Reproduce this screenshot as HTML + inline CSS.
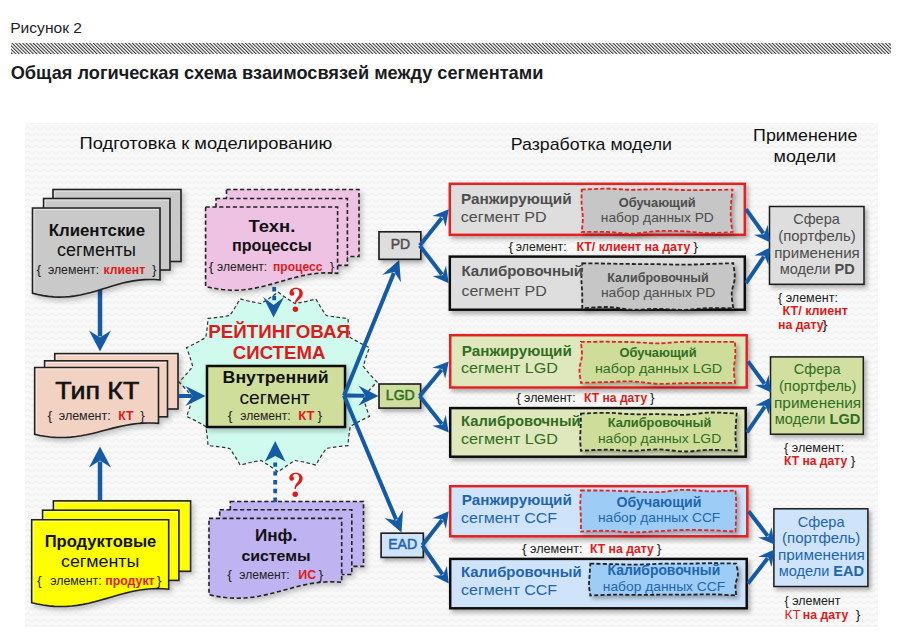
<!DOCTYPE html>
<html><head><meta charset="utf-8"><style>
html,body{margin:0;padding:0;width:899px;height:636px;overflow:hidden;background:#fff;}
</style></head><body>
<svg width="899" height="636" viewBox="0 0 899 636" style="position:absolute;left:0;top:0" font-family='"Liberation Sans", sans-serif'><defs>
<pattern id="hatch" width="2.5" height="2.5" patternUnits="userSpaceOnUse" patternTransform="rotate(-45)">
<rect width="2.5" height="2.5" fill="#fff"/><rect x="0" y="0" width="1.05" height="2.5" fill="#333"/>
</pattern>
<pattern id="zig" width="8" height="6" patternUnits="userSpaceOnUse">
<rect width="8" height="6" fill="#f9f9f9"/>
<path d="M0,4 L4,1 L8,4" stroke="#f0f0f0" stroke-width="1.3" fill="none"/>
</pattern>
<filter id="soft" x="-5%" y="-5%" width="110%" height="110%"><feGaussianBlur stdDeviation="0.8"/></filter>
<filter id="sh" x="-20%" y="-20%" width="150%" height="150%">
<feDropShadow dx="2.5" dy="3" stdDeviation="2.5" flood-color="#000" flood-opacity="0.22"/>
</filter>
<filter id="sh2" x="-20%" y="-20%" width="150%" height="150%">
<feDropShadow dx="2.5" dy="3" stdDeviation="2.2" flood-color="#000" flood-opacity="0.3"/>
</filter>
</defs><rect width="899" height="636" fill="#fff"/><text x="10.2" y="32.9" font-size="14.5" font-weight="normal" fill="#1e1e28" textLength="71.8" lengthAdjust="spacingAndGlyphs">Рисунок 2</text><rect x="11" y="43" width="880" height="11" fill="url(#hatch)"/><text x="10.7" y="78.5" font-size="18.5" font-weight="bold" fill="#1a1a22" textLength="532.7" lengthAdjust="spacingAndGlyphs">Общая логическая схема взаимосвязей между сегментами</text><rect x="25" y="123" width="853" height="504" fill="url(#zig)"/><text x="79.6" y="149.0" font-size="17" font-weight="normal" fill="#111" textLength="252.7" lengthAdjust="spacingAndGlyphs">Подготовка к моделированию</text><text x="510.8" y="150.3" font-size="17" font-weight="normal" fill="#111" textLength="161.2" lengthAdjust="spacingAndGlyphs">Разработка модели</text><text x="753.1" y="141.0" font-size="17" font-weight="normal" fill="#111" textLength="104.4" lengthAdjust="spacingAndGlyphs">Применение</text><text x="773.6" y="162.0" font-size="17" font-weight="normal" fill="#111" textLength="62.4" lengthAdjust="spacingAndGlyphs">модели</text><line x1="100.0" y1="290.0" x2="100.0" y2="336.5" stroke="#155aa4" stroke-width="4.5"/><path d="M100.0,351.5 L89.0,330.5 L100.0,337.5 L111.0,330.5 Z" fill="#155aa4"/><line x1="100.0" y1="500.0" x2="100.0" y2="461.5" stroke="#155aa4" stroke-width="4.5"/><path d="M100.0,446.5 L111.0,467.5 L100.0,460.5 L89.0,467.5 Z" fill="#155aa4"/><path d="M278.0,292.0 Q286.4,298.5 295.0,303.5 Q305.2,301.9 315.9,298.9 Q320.7,307.8 326.3,315.5 Q336.7,317.5 348.0,318.4 Q348.6,328.4 350.3,337.6 Q359.2,342.9 369.5,347.6 Q365.7,357.2 363.3,366.4 Q369.4,374.3 377.0,382.0 Q369.4,389.7 363.3,397.6 Q365.7,406.8 369.5,416.4 Q359.2,421.1 350.3,426.4 Q348.6,435.6 348.0,445.6 Q336.7,446.5 326.3,448.5 Q320.7,456.2 315.9,465.1 Q305.2,462.1 295.0,460.5 Q286.4,465.5 278.0,472.0 Q269.6,465.5 261.0,460.5 Q250.8,462.1 240.1,465.1 Q235.3,456.2 229.7,448.5 Q219.3,446.5 208.0,445.6 Q207.4,435.6 205.7,426.4 Q196.8,421.1 186.5,416.4 Q190.3,406.8 192.7,397.6 Q186.6,389.7 179.0,382.0 Q186.6,374.3 192.7,366.4 Q190.3,357.2 186.5,347.6 Q196.8,342.9 205.7,337.6 Q207.4,328.4 208.0,318.4 Q219.3,317.5 229.7,315.5 Q235.3,307.8 240.1,298.9 Q250.8,301.9 261.0,303.5 Q269.6,298.5 278.0,292.0 Z" fill="#d0faee" stroke="#333" stroke-width="1.2" stroke-dasharray="3.5,2.5"/><g filter="url(#sh)"><rect x="53" y="189.5" width="128" height="72" fill="#c9c9c9" stroke="#222" stroke-width="1.6"/><path d="M54.6,260.5 V191.1 H179.8" stroke="#fff" stroke-opacity="0.55" stroke-width="1" fill="none"/><rect x="43.6" y="198.5" width="126.4" height="71.5" fill="#c9c9c9" stroke="#222" stroke-width="1.6"/><path d="M45.2,269.0 V200.1 H168.8" stroke="#fff" stroke-opacity="0.55" stroke-width="1" fill="none"/><path d="M32.5,208.0 H160.0 V280.0 L154.69,279.56 149.38,279.44 144.06,279.61 138.75,280.09 133.44,280.84 128.12,281.86 122.81,283.09 117.50,284.50 112.19,286.04 106.87,287.66 101.56,289.30 96.25,290.91 90.94,292.42 85.62,293.79 80.31,294.97 75.00,295.91 69.69,296.60 64.38,297.00 59.06,297.09 53.75,296.88 48.44,296.38 43.13,295.59 37.81,294.56 32.50,293.30 Z" fill="#c9c9c9" stroke="#222" stroke-width="1.6"/><path d="M34.1,291.3 V209.6 H158.8" stroke="#fff" stroke-opacity="0.55" stroke-width="1" fill="none"/></g><text x="48.7" y="235.9" font-size="16.5" font-weight="bold" fill="#111" textLength="96.4" lengthAdjust="spacingAndGlyphs">Клиентские</text><text x="57.0" y="256.0" font-size="17.5" font-weight="normal" fill="#111" textLength="79.0" lengthAdjust="spacingAndGlyphs">сегменты</text><text x="36.4" y="274.3" font-size="12" font-weight="normal" fill="#222" textLength="4.7" lengthAdjust="spacingAndGlyphs">{</text><text x="47.9" y="274.3" font-size="12" font-weight="normal" fill="#222" textLength="51.2" lengthAdjust="spacingAndGlyphs">элемент:</text><text x="103.6" y="274.3" font-size="12" font-weight="bold" fill="#e01a1a" textLength="41.5" lengthAdjust="spacingAndGlyphs">клиент</text><text x="152.0" y="274.3" font-size="12" font-weight="normal" fill="#222" textLength="4.6" lengthAdjust="spacingAndGlyphs">}</text><g filter="url(#sh)"><rect x="226.5" y="189.5" width="132.5" height="67" fill="#eec2e2" stroke="#222" stroke-width="1.6" stroke-dasharray="4.2,2.6"/><rect x="216" y="198.5" width="131.4" height="66.9" fill="#eec2e2" stroke="#222" stroke-width="1.6" stroke-dasharray="4.2,2.6"/><path d="M205.6,207.0 H337.6 V273.4 L332.10,272.97 326.60,272.84 321.10,273.02 315.60,273.49 310.10,274.23 304.60,275.23 299.10,276.44 293.60,277.83 288.10,279.35 282.60,280.95 277.10,282.56 271.60,284.14 266.10,285.63 260.60,286.98 255.10,288.14 249.60,289.07 244.10,289.75 238.60,290.14 233.10,290.24 227.60,290.03 222.10,289.53 216.60,288.76 211.10,287.74 205.60,286.50 Z" fill="#eec2e2" stroke="#222" stroke-width="1.6" stroke-dasharray="4.2,2.6"/></g><text x="248.4" y="231.8" font-size="17" font-weight="bold" fill="#111" textLength="46.9" lengthAdjust="spacingAndGlyphs">Техн.</text><text x="231.9" y="251.3" font-size="16" font-weight="bold" fill="#111" textLength="79.9" lengthAdjust="spacingAndGlyphs">процессы</text><text x="208.8" y="270.8" font-size="12" font-weight="normal" fill="#222" textLength="4.8" lengthAdjust="spacingAndGlyphs">{</text><text x="217.1" y="270.8" font-size="12" font-weight="normal" fill="#222" textLength="50.1" lengthAdjust="spacingAndGlyphs">элемент:</text><text x="273.1" y="270.8" font-size="12" font-weight="bold" fill="#e01a1a" textLength="49.3" lengthAdjust="spacingAndGlyphs">процесс</text><text x="329.7" y="270.8" font-size="12" font-weight="normal" fill="#222" textLength="4.5" lengthAdjust="spacingAndGlyphs">}</text><g filter="url(#sh)"><rect x="54.75" y="353.6" width="123.25" height="55.4" fill="#f1d2c3" stroke="#222" stroke-width="1.6"/><path d="M56.4,408.0 V355.2 H176.8" stroke="#fff" stroke-opacity="0.55" stroke-width="1" fill="none"/><rect x="44.6" y="360.8" width="122.9" height="56" fill="#f1d2c3" stroke="#222" stroke-width="1.6"/><path d="M46.2,415.8 V362.4 H166.3" stroke="#fff" stroke-opacity="0.55" stroke-width="1" fill="none"/><path d="M34.7,367.5 H158.5 V423.4 L153.34,423.04 148.18,422.93 143.03,423.08 137.87,423.47 132.71,424.10 127.55,424.94 122.39,425.96 117.23,427.12 112.08,428.40 106.92,429.74 101.76,431.09 96.60,432.42 91.44,433.67 86.28,434.80 81.12,435.78 75.97,436.56 70.81,437.13 65.65,437.46 60.49,437.54 55.33,437.36 50.18,436.95 45.02,436.30 39.86,435.44 34.70,434.40 Z" fill="#f1d2c3" stroke="#222" stroke-width="1.6"/><path d="M36.3,432.4 V369.1 H157.3" stroke="#fff" stroke-opacity="0.55" stroke-width="1" fill="none"/></g><text x="55.3" y="399.2" font-size="24.5" font-weight="normal" fill="#111" stroke="#111" stroke-width="0.6" textLength="84.0" lengthAdjust="spacingAndGlyphs">Тип КТ</text><text x="47.5" y="420.0" font-size="12" font-weight="normal" fill="#222" textLength="4.7" lengthAdjust="spacingAndGlyphs">{</text><text x="58.8" y="420.0" font-size="12" font-weight="normal" fill="#222" textLength="51.8" lengthAdjust="spacingAndGlyphs">элемент:</text><text x="118.3" y="420.0" font-size="12" font-weight="bold" fill="#e01a1a" textLength="15.3" lengthAdjust="spacingAndGlyphs">КТ</text><text x="140.3" y="420.0" font-size="12" font-weight="normal" fill="#222" textLength="4.5" lengthAdjust="spacingAndGlyphs">}</text><g filter="url(#sh)"><rect x="53.4" y="500.9" width="137.2" height="70.4" fill="#ffff00" stroke="#222" stroke-width="1.6"/><path d="M55.0,570.3 V502.5 H189.4" stroke="#fff" stroke-opacity="0.55" stroke-width="1" fill="none"/><rect x="42.6" y="510.2" width="136.3" height="70.2" fill="#ffff00" stroke="#222" stroke-width="1.6"/><path d="M44.2,579.4 V511.8 H177.7" stroke="#fff" stroke-opacity="0.55" stroke-width="1" fill="none"/><path d="M31.7,519.8 H168.7 V589.2 L162.99,588.76 157.28,588.63 151.57,588.81 145.87,589.29 140.16,590.06 134.45,591.08 128.74,592.34 123.03,593.77 117.33,595.33 111.62,596.98 105.91,598.64 100.20,600.27 94.49,601.80 88.78,603.19 83.08,604.39 77.37,605.35 71.66,606.05 65.95,606.45 60.24,606.55 54.53,606.34 48.83,605.83 43.12,605.03 37.41,603.98 31.70,602.70 Z" fill="#ffff00" stroke="#222" stroke-width="1.6"/><path d="M33.3,600.7 V521.4 H167.5" stroke="#fff" stroke-opacity="0.55" stroke-width="1" fill="none"/></g><text x="44.7" y="546.8" font-size="16.3" font-weight="bold" fill="#111" textLength="111.6" lengthAdjust="spacingAndGlyphs">Продуктовые</text><text x="61.0" y="567.4" font-size="17.3" font-weight="normal" fill="#111" textLength="78.2" lengthAdjust="spacingAndGlyphs">сегменты</text><text x="37.1" y="585.0" font-size="12" font-weight="normal" fill="#222" textLength="4.7" lengthAdjust="spacingAndGlyphs">{</text><text x="50.3" y="585.0" font-size="12" font-weight="normal" fill="#222" textLength="51.3" lengthAdjust="spacingAndGlyphs">элемент:</text><text x="105.3" y="585.0" font-size="12" font-weight="bold" fill="#e01a1a" textLength="49.3" lengthAdjust="spacingAndGlyphs">продукт</text><text x="156.7" y="585.0" font-size="12" font-weight="normal" fill="#222" textLength="4.7" lengthAdjust="spacingAndGlyphs">}</text><g filter="url(#sh)"><rect x="230.3" y="501.5" width="133.2" height="64.9" fill="#c0b3f2" stroke="#222" stroke-width="1.6" stroke-dasharray="4.2,2.6"/><rect x="219.7" y="509.8" width="132.1" height="64.7" fill="#c0b3f2" stroke="#222" stroke-width="1.6" stroke-dasharray="4.2,2.6"/><path d="M209.0,518.4 H341.7 V582.3 L336.17,581.89 330.64,581.77 325.11,581.94 319.58,582.38 314.05,583.09 308.52,584.03 303.00,585.18 297.47,586.50 291.94,587.93 286.41,589.44 280.88,590.97 275.35,592.47 269.82,593.88 264.29,595.15 258.76,596.25 253.23,597.14 247.70,597.78 242.18,598.15 236.65,598.24 231.12,598.04 225.59,597.57 220.06,596.84 214.53,595.87 209.00,594.70 Z" fill="#c0b3f2" stroke="#222" stroke-width="1.6" stroke-dasharray="4.2,2.6"/></g><text x="254.9" y="541.0" font-size="16.4" font-weight="bold" fill="#111" textLength="42.3" lengthAdjust="spacingAndGlyphs">Инф.</text><text x="241.4" y="561.3" font-size="15.5" font-weight="bold" fill="#111" textLength="69.2" lengthAdjust="spacingAndGlyphs">системы</text><text x="227.3" y="579.3" font-size="12" font-weight="normal" fill="#222" textLength="4.7" lengthAdjust="spacingAndGlyphs">{</text><text x="239.3" y="579.3" font-size="12" font-weight="normal" fill="#222" textLength="50.3" lengthAdjust="spacingAndGlyphs">элемент:</text><text x="298.3" y="579.3" font-size="12" font-weight="bold" fill="#e01a1a" textLength="17.9" lengthAdjust="spacingAndGlyphs">ИС</text><text x="318.5" y="579.3" font-size="12" font-weight="normal" fill="#222" textLength="4.7" lengthAdjust="spacingAndGlyphs">}</text><rect x="207" y="366" width="138" height="61" fill="#d0de9b" stroke="#111" stroke-width="2.5" filter="url(#sh)"/><text x="222.6" y="383.0" font-size="17" font-weight="bold" fill="#111" textLength="106.0" lengthAdjust="spacingAndGlyphs">Внутренний</text><text x="239.4" y="404.0" font-size="18.5" font-weight="normal" fill="#111" textLength="70.5" lengthAdjust="spacingAndGlyphs">сегмент</text><text x="227.8" y="420.0" font-size="12" font-weight="normal" fill="#222" textLength="4.7" lengthAdjust="spacingAndGlyphs">{</text><text x="240.3" y="420.0" font-size="12" font-weight="normal" fill="#222" textLength="50.3" lengthAdjust="spacingAndGlyphs">элемент:</text><text x="298.3" y="420.0" font-size="12" font-weight="bold" fill="#e01a1a" textLength="16.3" lengthAdjust="spacingAndGlyphs">КТ</text><text x="317.6" y="420.0" font-size="12" font-weight="normal" fill="#222" textLength="4.7" lengthAdjust="spacingAndGlyphs">}</text><text x="208.2" y="337.7" font-size="17.5" font-weight="bold" fill="#e01a1a" textLength="141.8" lengthAdjust="spacingAndGlyphs">РЕЙТИНГОВАЯ</text><text x="232.8" y="359.4" font-size="17.5" font-weight="bold" fill="#e01a1a" textLength="92.6" lengthAdjust="spacingAndGlyphs">СИСТЕМА</text><line x1="179.0" y1="396.0" x2="191.5" y2="396.0" stroke="#155aa4" stroke-width="4"/><path d="M205.5,396.0 L185.5,406.0 L192.5,396.0 L185.5,386.0 Z" fill="#155aa4"/><line x1="274.2" y1="287" x2="274.2" y2="304" stroke="#155aa4" stroke-width="3.8" stroke-dasharray="4.4,4.4"/><path d="M273.6,317.5 L263.1,297.0 L273.6,305.0 L284.1,297.0 Z" fill="#155aa4"/><line x1="275.2" y1="502" x2="275.2" y2="459" stroke="#155aa4" stroke-width="3.8" stroke-dasharray="4.4,4.4"/><path d="M275.2,441.0 L285.5,461.5 L275.2,456.0 L264.9,461.5 Z" fill="#155aa4"/><g transform="translate(291.9,293.4)"><circle cx="0" cy="0" r="2.35" fill="#e01a1a"/><path d="M-2.3,-0.4 C-2.3,-3.8 0.8,-5.6 4.2,-5.6 C8.2,-5.6 10.9,-3.2 10.9,0 C10.9,2.6 9.4,4.4 7.6,5.8 C5.6,7.4 4.3,8.6 4.1,10.6 L2.9,10.6 C2.7,8.4 3.4,6.6 4.8,5 C6.4,3.2 7.5,1.8 7.5,-0.4 C7.5,-3 6.3,-4.3 4.2,-4.3 C2.4,-4.3 1.6,-3.6 1.2,-2.6 Z" fill="#e01a1a"/><circle cx="3.5" cy="15.9" r="2.7" fill="#e01a1a"/></g><g transform="translate(291.7,478.4)"><circle cx="0" cy="0" r="2.35" fill="#e01a1a"/><path d="M-2.3,-0.4 C-2.3,-3.8 0.8,-5.6 4.2,-5.6 C8.2,-5.6 10.9,-3.2 10.9,0 C10.9,2.6 9.4,4.4 7.6,5.8 C5.6,7.4 4.3,8.6 4.1,10.6 L2.9,10.6 C2.7,8.4 3.4,6.6 4.8,5 C6.4,3.2 7.5,1.8 7.5,-0.4 C7.5,-3 6.3,-4.3 4.2,-4.3 C2.4,-4.3 1.6,-3.6 1.2,-2.6 Z" fill="#e01a1a"/><circle cx="3.5" cy="15.9" r="2.7" fill="#e01a1a"/></g><line x1="344.0" y1="395.5" x2="393.9" y2="273.0" stroke="#155aa4" stroke-width="4"/><path d="M399.2,260.0 L400.9,282.3 L394.3,272.0 L382.4,274.7 Z" fill="#155aa4"/><line x1="344.0" y1="395.5" x2="364.5" y2="395.8" stroke="#155aa4" stroke-width="4"/><path d="M378.5,396.0 L358.4,405.7 L365.5,395.8 L358.6,385.7 Z" fill="#155aa4"/><line x1="344.0" y1="395.5" x2="396.1" y2="519.6" stroke="#155aa4" stroke-width="4"/><path d="M401.5,532.5 L384.5,517.9 L396.5,520.5 L403.0,510.2 Z" fill="#155aa4"/><rect x="379" y="231.8" width="41.8" height="27.5" fill="#dedede" stroke="#1a1a1a" stroke-width="1.6" filter="url(#sh2)"/><text x="390.7" y="249.4" font-size="14" font-weight="normal" fill="#4d4d4d" stroke="#4d4d4d" stroke-width="0.5" textLength="19.4" lengthAdjust="spacingAndGlyphs">PD</text><rect x="449.8" y="183.8" width="295.0" height="51.0" fill="#dedede" stroke="#e52222" stroke-width="2.5" filter="url(#sh2)"/><rect x="449.8" y="256.6" width="295.0" height="53.1" fill="#dedede" stroke="#111" stroke-width="2.5" filter="url(#sh2)"/><path d="M581.7,189.6 C585.9,189.5 598.5,188.7 606.8,188.7 C615.2,188.7 623.6,189.7 632.0,189.8 C640.3,189.8 648.7,189.1 657.1,189.2 C665.5,189.2 673.9,189.8 682.2,190.0 C690.6,190.1 699.0,190.1 707.4,190.0 C715.7,190.0 728.3,189.7 732.5,189.6 C732.3,192.0 731.3,199.0 731.0,203.7 C730.7,208.4 730.6,213.2 730.8,217.9 C731.1,222.6 732.2,229.6 732.5,232.0 C728.3,232.2 715.7,233.3 707.4,233.1 C699.0,233.0 690.6,231.5 682.2,231.2 C673.9,230.8 665.5,230.7 657.1,231.1 C648.7,231.5 640.3,233.6 632.0,233.7 C623.6,233.8 615.2,232.2 606.8,231.9 C598.5,231.6 585.9,232.0 581.7,232.0 C581.9,229.6 582.9,222.6 582.8,217.9 C582.8,213.2 581.8,208.4 581.6,203.7 C581.4,199.0 581.7,192.0 581.7,189.6 Z" fill="#c6c6c6" stroke="#e52222" stroke-width="1.8" stroke-dasharray="4,2.2" filter="url(#sh2)"/><path d="M582.3,263.2 C586.5,263.3 599.1,263.5 607.5,263.6 C615.9,263.8 624.2,263.9 632.6,264.0 C641.0,264.1 649.4,264.1 657.8,264.2 C666.2,264.3 674.6,264.7 683.0,264.7 C691.4,264.7 699.7,264.3 708.1,264.0 C716.5,263.8 729.1,263.3 733.3,263.2 C733.5,265.7 735.0,273.2 734.7,278.2 C734.5,283.2 731.9,288.3 731.7,293.3 C731.5,298.3 733.0,305.8 733.3,308.3 C729.1,308.3 716.5,307.9 708.1,308.2 C699.7,308.4 691.4,309.7 683.0,309.8 C674.6,309.9 666.2,308.8 657.8,308.8 C649.4,308.8 641.0,310.0 632.6,309.7 C624.2,309.4 615.9,307.2 607.5,307.0 C599.1,306.8 586.5,308.1 582.3,308.3 C582.3,305.8 582.3,298.3 582.2,293.3 C582.1,288.3 581.4,283.2 581.4,278.2 C581.5,273.2 582.2,265.7 582.3,263.2 Z" fill="#c6c6c6" stroke="#222" stroke-width="1.8" stroke-dasharray="4,2.2" filter="url(#sh2)"/><text x="460.9" y="203.8" font-size="15" font-weight="bold" fill="#4d4d4d" textLength="110.8" lengthAdjust="spacingAndGlyphs">Ранжирующий</text><text x="460.8" y="222.2" font-size="15.5" font-weight="normal" fill="#4d4d4d" textLength="85.9" lengthAdjust="spacingAndGlyphs">сегмент PD</text><text x="461.5" y="276.0" font-size="14.8" font-weight="bold" fill="#4d4d4d" textLength="121.6" lengthAdjust="spacingAndGlyphs">Калибровочный</text><text x="461.4" y="296.3" font-size="15.5" font-weight="normal" fill="#4d4d4d" textLength="85.4" lengthAdjust="spacingAndGlyphs">сегмент PD</text><text x="618.7" y="206.5" font-size="12.6" font-weight="bold" fill="#4d4d4d" textLength="77.0" lengthAdjust="spacingAndGlyphs">Обучающий</text><text x="600.8" y="222.0" font-size="13.6" font-weight="normal" fill="#4d4d4d" textLength="113.0" lengthAdjust="spacingAndGlyphs">набор данных PD</text><text x="607.3" y="281.5" font-size="12.6" font-weight="bold" fill="#4d4d4d" textLength="101.4" lengthAdjust="spacingAndGlyphs">Калибровочный</text><text x="600.9" y="297.0" font-size="13.6" font-weight="normal" fill="#4d4d4d" textLength="114.4" lengthAdjust="spacingAndGlyphs">набор данных PD</text><text x="508.6" y="250.9" font-size="12" font-weight="normal" fill="#222" textLength="4.7" lengthAdjust="spacingAndGlyphs">{</text><text x="515.8" y="250.9" font-size="12" font-weight="normal" fill="#222" textLength="50.8" lengthAdjust="spacingAndGlyphs">элемент:</text><text x="576.4" y="250.9" font-size="12" font-weight="bold" fill="#e01a1a" textLength="113.9" lengthAdjust="spacingAndGlyphs">КТ/ клиент на дату</text><text x="693.3" y="250.9" font-size="12" font-weight="normal" fill="#222" textLength="4.7" lengthAdjust="spacingAndGlyphs">}</text><line x1="419.8" y1="245.6" x2="441.8" y2="217.9" stroke="#155aa4" stroke-width="4"/><path d="M448.7,209.2 L445.7,226.7 L442.5,217.1 L432.4,216.1 Z" fill="#155aa4"/><line x1="419.8" y1="245.6" x2="442.0" y2="274.5" stroke="#155aa4" stroke-width="4"/><path d="M448.7,283.2 L432.5,276.1 L442.6,275.3 L446.0,265.7 Z" fill="#155aa4"/><rect x="769.5" y="206.5" width="94.5" height="77.80000000000001" fill="#dedede" stroke="#1a1a1a" stroke-width="1.5" filter="url(#sh2)"/><text x="793.2" y="223.6" font-size="14.6" font-weight="normal" fill="#4d4d4d" textLength="46.6" lengthAdjust="spacingAndGlyphs">Сфера</text><text x="778.2" y="240.5" font-size="14.6" font-weight="normal" fill="#4d4d4d" textLength="77.6" lengthAdjust="spacingAndGlyphs">(портфель)</text><text x="774.2" y="257.7" font-size="14.6" font-weight="normal" fill="#4d4d4d" textLength="85.6" lengthAdjust="spacingAndGlyphs">применения</text><line x1="746.0" y1="209.2" x2="763.5" y2="233.5" stroke="#155aa4" stroke-width="4"/><path d="M770.0,242.4 L754.0,234.8 L764.1,234.3 L767.8,224.9 Z" fill="#155aa4"/><line x1="746.0" y1="283.2" x2="763.9" y2="256.5" stroke="#155aa4" stroke-width="4"/><path d="M770.0,247.4 L768.4,265.0 L764.4,255.7 L754.3,255.5 Z" fill="#155aa4"/><text x="778.0" y="301.8" font-size="12" font-weight="normal" fill="#222" textLength="59.9" lengthAdjust="spacingAndGlyphs">{ элемент:</text><text x="782.6" y="315.0" font-size="12" font-weight="bold" fill="#e01a1a" textLength="65.3" lengthAdjust="spacingAndGlyphs">КТ/ клиент</text><text x="778.0" y="329.3" font-size="12" font-weight="bold" fill="#e01a1a" textLength="45.6" lengthAdjust="spacingAndGlyphs">на дату</text><text x="822.3" y="329.3" font-size="12" font-weight="normal" fill="#222" textLength="5.3" lengthAdjust="spacingAndGlyphs">}</text><rect x="379" y="384" width="41.6" height="24.1" fill="#d0dfa0" stroke="#1a1a1a" stroke-width="1.6" filter="url(#sh2)"/><text x="385.8" y="399.9" font-size="14" font-weight="normal" fill="#306d1f" stroke="#306d1f" stroke-width="0.5" textLength="29.0" lengthAdjust="spacingAndGlyphs">LGD</text><rect x="450.2" y="335.2" width="296.5" height="52.3" fill="#dfe8bd" stroke="#e52222" stroke-width="2.5" filter="url(#sh2)"/><rect x="450.2" y="408.1" width="295.5" height="48.6" fill="#dfe8bd" stroke="#111" stroke-width="2.5" filter="url(#sh2)"/><path d="M580.9,341.9 C585.2,341.9 598.0,341.7 606.6,341.7 C615.1,341.8 623.7,341.8 632.3,342.1 C640.8,342.4 649.4,343.4 658.0,343.3 C666.5,343.3 675.1,342.0 683.6,341.8 C692.2,341.5 700.8,341.9 709.3,341.9 C717.9,341.9 730.7,341.9 735.0,341.9 C735.0,344.2 735.5,351.0 735.3,355.5 C735.1,360.1 734.0,364.6 733.9,369.2 C733.9,373.7 734.8,380.5 735.0,382.8 C730.7,382.8 717.9,382.8 709.3,382.8 C700.8,382.9 692.2,383.1 683.6,383.2 C675.1,383.4 666.5,384.1 658.0,383.8 C649.4,383.5 640.8,381.7 632.3,381.4 C623.7,381.1 615.1,381.9 606.6,382.1 C598.0,382.4 585.2,382.7 580.9,382.8 C580.7,380.5 579.3,373.7 579.5,369.2 C579.7,364.6 581.7,360.1 582.0,355.5 C582.2,351.0 581.1,344.2 580.9,341.9 Z" fill="#cfdd9a" stroke="#e52222" stroke-width="1.8" stroke-dasharray="4,2.2" filter="url(#sh2)"/><path d="M580.9,413.6 C585.2,413.5 598.2,412.7 606.9,412.8 C615.5,412.9 624.2,414.0 632.8,414.2 C641.5,414.5 650.1,414.1 658.8,414.2 C667.5,414.3 676.1,415.1 684.8,414.8 C693.4,414.5 702.1,412.7 710.7,412.5 C719.4,412.3 732.4,413.4 736.7,413.6 C736.5,415.7 736.0,421.8 735.8,426.0 C735.6,430.1 735.3,434.2 735.5,438.3 C735.7,442.5 736.5,448.6 736.7,450.7 C732.4,450.5 719.4,449.6 710.7,449.8 C702.1,449.9 693.4,451.5 684.8,451.5 C676.1,451.4 667.5,449.6 658.8,449.4 C650.1,449.3 641.5,450.8 632.8,450.8 C624.2,450.9 615.5,449.7 606.9,449.7 C598.2,449.7 585.2,450.5 580.9,450.7 C580.8,448.6 580.2,442.5 580.2,438.3 C580.2,434.2 580.6,430.1 580.7,426.0 C580.8,421.8 580.9,415.7 580.9,413.6 Z" fill="#cfdd9a" stroke="#222" stroke-width="1.8" stroke-dasharray="4,2.2" filter="url(#sh2)"/><text x="461.7" y="355.6" font-size="15" font-weight="bold" fill="#306d1f" textLength="110.2" lengthAdjust="spacingAndGlyphs">Ранжирующий</text><text x="461.0" y="373.3" font-size="15.5" font-weight="normal" fill="#306d1f" textLength="97.0" lengthAdjust="spacingAndGlyphs">сегмент LGD</text><text x="461.1" y="426.4" font-size="14.8" font-weight="bold" fill="#306d1f" textLength="119.6" lengthAdjust="spacingAndGlyphs">Калибровочный</text><text x="461.0" y="444.1" font-size="15.5" font-weight="normal" fill="#306d1f" textLength="97.0" lengthAdjust="spacingAndGlyphs">сегмент LGD</text><text x="619.5" y="356.6" font-size="12.6" font-weight="bold" fill="#306d1f" textLength="77.1" lengthAdjust="spacingAndGlyphs">Обучающий</text><text x="594.9" y="373.3" font-size="13.6" font-weight="normal" fill="#306d1f" textLength="127.3" lengthAdjust="spacingAndGlyphs">набор данных LGD</text><text x="607.7" y="427.0" font-size="12.6" font-weight="bold" fill="#306d1f" textLength="103.6" lengthAdjust="spacingAndGlyphs">Калибровочный</text><text x="597.9" y="443.1" font-size="13.6" font-weight="normal" fill="#306d1f" textLength="123.3" lengthAdjust="spacingAndGlyphs">набор данных LGD</text><text x="516.3" y="401.9" font-size="12" font-weight="normal" fill="#222" textLength="4.7" lengthAdjust="spacingAndGlyphs">{</text><text x="524.1" y="401.9" font-size="12" font-weight="normal" fill="#222" textLength="51.5" lengthAdjust="spacingAndGlyphs">элемент:</text><text x="584.1" y="401.9" font-size="12" font-weight="bold" fill="#e01a1a" textLength="63.2" lengthAdjust="spacingAndGlyphs">КТ на дату</text><text x="650.0" y="401.9" font-size="12" font-weight="normal" fill="#222" textLength="4.6" lengthAdjust="spacingAndGlyphs">}</text><line x1="419.6" y1="396.1" x2="441.6" y2="369.8" stroke="#155aa4" stroke-width="4"/><path d="M448.7,361.4 L445.2,378.7 L442.3,369.1 L432.2,367.8 Z" fill="#155aa4"/><line x1="419.6" y1="396.1" x2="441.8" y2="423.9" stroke="#155aa4" stroke-width="4"/><path d="M448.7,432.4 L432.4,425.7 L442.5,424.6 L445.7,415.0 Z" fill="#155aa4"/><rect x="770.5" y="356.9" width="92.79999999999995" height="77.30000000000001" fill="#d1e0a0" stroke="#1a1a1a" stroke-width="1.5" filter="url(#sh2)"/><text x="793.7" y="373.6" font-size="14.6" font-weight="normal" fill="#306d1f" textLength="46.8" lengthAdjust="spacingAndGlyphs">Сфера</text><text x="778.9" y="390.5" font-size="14.6" font-weight="normal" fill="#306d1f" textLength="77.7" lengthAdjust="spacingAndGlyphs">(портфель)</text><text x="774.0" y="408.0" font-size="14.6" font-weight="normal" fill="#306d1f" textLength="87.2" lengthAdjust="spacingAndGlyphs">применения</text><line x1="748.0" y1="361.4" x2="764.5" y2="383.7" stroke="#155aa4" stroke-width="4"/><path d="M771.0,392.5 L755.0,385.1 L765.1,384.5 L768.6,375.0 Z" fill="#155aa4"/><line x1="747.0" y1="432.4" x2="764.8" y2="406.6" stroke="#155aa4" stroke-width="4"/><path d="M771.0,397.5 L769.2,415.1 L765.3,405.8 L755.2,405.5 Z" fill="#155aa4"/><text x="784.0" y="452.2" font-size="12" font-weight="normal" fill="#222" textLength="60.2" lengthAdjust="spacingAndGlyphs">{ элемент:</text><text x="784.0" y="465.0" font-size="12" font-weight="bold" fill="#e01a1a" textLength="63.2" lengthAdjust="spacingAndGlyphs">КТ на дату</text><text x="850.8" y="465.0" font-size="12" font-weight="normal" fill="#222" textLength="4.6" lengthAdjust="spacingAndGlyphs">}</text><text x="774.8" y="423.7" font-size="14.6" fill="#306d1f" textLength="85.6" lengthAdjust="spacingAndGlyphs">модели <tspan font-weight="bold">LGD</tspan></text><text x="779.8" y="274.3" font-size="14.6" fill="#4d4d4d" textLength="74.9" lengthAdjust="spacingAndGlyphs">модели <tspan font-weight="bold">PD</tspan></text><rect x="381.1" y="533.2" width="42.2" height="24.2" fill="#cfe4fb" stroke="#1a1a1a" stroke-width="1.6" filter="url(#sh2)"/><text x="388.2" y="548.8" font-size="14" font-weight="normal" fill="#1f65ae" stroke="#1f65ae" stroke-width="0.5" textLength="29.1" lengthAdjust="spacingAndGlyphs">EAD</text><rect x="450.2" y="486.2" width="297.1" height="50.1" fill="#cfe4fb" stroke="#e52222" stroke-width="2.5" filter="url(#sh2)"/><rect x="450.2" y="558.9" width="296.5" height="49.4" fill="#cfe4fb" stroke="#111" stroke-width="2.5" filter="url(#sh2)"/><path d="M580.9,490.5 C585.2,490.5 598.1,490.4 606.7,490.6 C615.3,490.7 623.8,491.3 632.4,491.5 C641.0,491.8 649.6,492.4 658.2,492.1 C666.8,491.8 675.4,489.9 684.0,489.8 C692.6,489.7 701.1,491.3 709.7,491.4 C718.3,491.5 731.2,490.7 735.5,490.5 C735.6,492.8 736.1,499.6 736.2,504.2 C736.3,508.8 736.2,513.3 736.0,517.9 C735.9,522.5 735.6,529.3 735.5,531.6 C731.2,531.4 718.3,530.5 709.7,530.3 C701.1,530.0 692.6,529.8 684.0,530.0 C675.4,530.1 666.8,530.8 658.2,531.2 C649.6,531.6 641.0,532.5 632.4,532.4 C623.8,532.4 615.3,530.9 606.7,530.8 C598.1,530.6 585.2,531.5 580.9,531.6 C580.9,529.3 581.0,522.5 580.9,517.9 C580.8,513.3 580.3,508.8 580.3,504.2 C580.3,499.6 580.8,492.8 580.9,490.5 Z" fill="#9dcdf7" stroke="#e52222" stroke-width="1.8" stroke-dasharray="4,2.2" filter="url(#sh2)"/><path d="M590.3,563.6 C594.4,563.7 606.5,564.0 614.6,564.2 C622.7,564.4 630.8,564.7 638.9,564.6 C647.0,564.5 655.1,563.8 663.2,563.7 C671.4,563.5 679.5,563.7 687.6,563.6 C695.7,563.6 703.8,563.2 711.9,563.2 C720.0,563.2 732.1,563.5 736.2,563.6 C736.5,565.4 738.0,570.7 737.9,574.2 C737.8,577.8 735.8,581.3 735.5,584.9 C735.2,588.4 736.1,593.7 736.2,595.5 C732.1,595.3 720.0,594.4 711.9,594.3 C703.8,594.2 695.7,594.6 687.6,594.7 C679.5,594.8 671.4,594.6 663.2,594.7 C655.1,594.7 647.0,594.9 638.9,594.9 C630.8,594.9 622.7,594.6 614.6,594.7 C606.5,594.8 594.4,595.4 590.3,595.5 C590.1,593.7 589.1,588.4 589.0,584.9 C588.9,581.3 589.5,577.8 589.7,574.2 C589.9,570.7 590.2,565.4 590.3,563.6 Z" fill="#9dcdf7" stroke="#222" stroke-width="1.8" stroke-dasharray="4,2.2" filter="url(#sh2)"/><text x="461.7" y="505.0" font-size="15" font-weight="bold" fill="#1f65ae" textLength="110.2" lengthAdjust="spacingAndGlyphs">Ранжирующий</text><text x="461.0" y="523.3" font-size="15.5" font-weight="normal" fill="#1f65ae" textLength="96.1" lengthAdjust="spacingAndGlyphs">сегмент CCF</text><text x="461.1" y="577.4" font-size="14.8" font-weight="bold" fill="#1f65ae" textLength="120.5" lengthAdjust="spacingAndGlyphs">Калибровочный</text><text x="461.0" y="595.1" font-size="15.5" font-weight="normal" fill="#1f65ae" textLength="96.1" lengthAdjust="spacingAndGlyphs">сегмент CCF</text><text x="616.5" y="507.0" font-size="14" font-weight="bold" fill="#1f65ae" textLength="85.0" lengthAdjust="spacingAndGlyphs">Обучающий</text><text x="597.9" y="522.3" font-size="13.6" font-weight="normal" fill="#1f65ae" textLength="122.4" lengthAdjust="spacingAndGlyphs">набор данных CCF</text><text x="607.6" y="575.4" font-size="14" font-weight="bold" fill="#1f65ae" textLength="112.6" lengthAdjust="spacingAndGlyphs">Калибровочный</text><text x="602.8" y="591.1" font-size="13.6" font-weight="normal" fill="#1f65ae" textLength="122.4" lengthAdjust="spacingAndGlyphs">набор данных CCF</text><text x="522.1" y="552.8" font-size="12" font-weight="normal" fill="#222" textLength="4.7" lengthAdjust="spacingAndGlyphs">{</text><text x="530.0" y="552.8" font-size="12" font-weight="normal" fill="#222" textLength="52.4" lengthAdjust="spacingAndGlyphs">элемент:</text><text x="590.0" y="552.8" font-size="12" font-weight="bold" fill="#e01a1a" textLength="63.8" lengthAdjust="spacingAndGlyphs">КТ на дату</text><text x="656.8" y="552.8" font-size="12" font-weight="normal" fill="#222" textLength="4.7" lengthAdjust="spacingAndGlyphs">}</text><line x1="422.3" y1="545.3" x2="442.0" y2="520.0" stroke="#155aa4" stroke-width="4"/><path d="M448.7,511.3 L445.9,528.8 L442.6,519.2 L432.5,518.3 Z" fill="#155aa4"/><line x1="422.3" y1="545.3" x2="442.5" y2="574.5" stroke="#155aa4" stroke-width="4"/><path d="M448.7,583.5 L432.9,575.6 L443.0,575.3 L446.9,566.0 Z" fill="#155aa4"/><rect x="773.9" y="508.8" width="94.0" height="77.69999999999999" fill="#cfe4fb" stroke="#1a1a1a" stroke-width="1.5" filter="url(#sh2)"/><text x="797.7" y="526.5" font-size="14.6" font-weight="normal" fill="#1f65ae" textLength="46.8" lengthAdjust="spacingAndGlyphs">Сфера</text><text x="782.0" y="543.3" font-size="14.6" font-weight="normal" fill="#1f65ae" textLength="78.3" lengthAdjust="spacingAndGlyphs">(портфель)</text><text x="778.0" y="560.0" font-size="14.6" font-weight="normal" fill="#1f65ae" textLength="86.8" lengthAdjust="spacingAndGlyphs">применения</text><line x1="748.6" y1="511.3" x2="767.7" y2="535.9" stroke="#155aa4" stroke-width="4"/><path d="M774.4,544.6 L758.2,537.6 L768.3,536.7 L771.6,527.2 Z" fill="#155aa4"/><line x1="748.0" y1="583.5" x2="767.6" y2="558.3" stroke="#155aa4" stroke-width="4"/><path d="M774.4,549.6 L771.6,567.1 L768.3,557.5 L758.2,556.7 Z" fill="#155aa4"/><text x="784.6" y="605.0" font-size="12" font-weight="normal" fill="#222" textLength="55.8" lengthAdjust="spacingAndGlyphs">{ элемент</text><text x="784.6" y="618.5" font-size="12" font-weight="normal" fill="#e01a1a" textLength="16.0" lengthAdjust="spacingAndGlyphs">КТ</text><text x="802.8" y="618.5" font-size="12" font-weight="bold" fill="#e01a1a" textLength="45.5" lengthAdjust="spacingAndGlyphs">на дату</text><text x="855.8" y="618.5" font-size="12" font-weight="normal" fill="#222" textLength="4.7" lengthAdjust="spacingAndGlyphs">}</text><text x="778.8" y="575.7" font-size="14.6" fill="#1f65ae" textLength="85.2" lengthAdjust="spacingAndGlyphs">модели <tspan font-weight="bold">EAD</tspan></text></svg>
</body></html>
